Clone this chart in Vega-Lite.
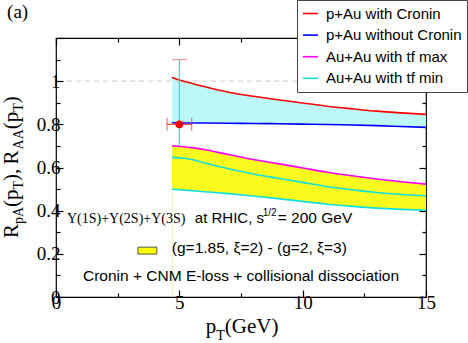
{
  "$schema": "https://vega.github.io/schema/vega-lite/v6.json",
  "width": 370,
  "height": 259,
  "autosize": "none",
  "padding": {"left": 56, "top": 38, "right": 42, "bottom": 46},
  "background": "white",
  "config": {
    "view": {"stroke": "#000", "strokeWidth": 1.2},
    "axis": {"domain": false, "grid": false, "labelFont": "Liberation Serif", "labelFontSize": 19, "labelColor": "#000", "tickColor": "#000", "tickWidth": 1.2, "labelFlush": false, "labelOverlap": false}
  },
  "datasets": {
    "curves": [
      {"pt": 4.7, "red": 1.017, "blue": 0.807, "mag": 0.701, "cyu": 0.647, "cyl": 0.499},
      {"pt": 5, "red": 1.005, "blue": 0.807, "mag": 0.698, "cyu": 0.645, "cyl": 0.497},
      {"pt": 5.5, "red": 0.99, "blue": 0.806, "mag": 0.692, "cyu": 0.637, "cyl": 0.493},
      {"pt": 6, "red": 0.975, "blue": 0.806, "mag": 0.683, "cyu": 0.622, "cyl": 0.488},
      {"pt": 7, "red": 0.949, "blue": 0.805, "mag": 0.66, "cyu": 0.594, "cyl": 0.479},
      {"pt": 8, "red": 0.93, "blue": 0.804, "mag": 0.637, "cyu": 0.57, "cyl": 0.468},
      {"pt": 9, "red": 0.914, "blue": 0.803, "mag": 0.618, "cyu": 0.55, "cyl": 0.456},
      {"pt": 10, "red": 0.899, "blue": 0.801, "mag": 0.598, "cyu": 0.531, "cyl": 0.443},
      {"pt": 11, "red": 0.884, "blue": 0.799, "mag": 0.578, "cyu": 0.511, "cyl": 0.43},
      {"pt": 12, "red": 0.872, "blue": 0.797, "mag": 0.562, "cyu": 0.497, "cyl": 0.42},
      {"pt": 13, "red": 0.861, "blue": 0.794, "mag": 0.547, "cyu": 0.484, "cyl": 0.412},
      {"pt": 14, "red": 0.853, "blue": 0.79, "mag": 0.534, "cyu": 0.475, "cyl": 0.406},
      {"pt": 15, "red": 0.846, "blue": 0.786, "mag": 0.523, "cyu": 0.469, "cyl": 0.402}
    ],
    "point": [
      {"pt": 5, "r": 0.8, "xlo": 4.5, "xhi": 5.5, "ylo": 0.7, "yhi": 1.1}
    ]
  },
  "data": {"name": "point"},
  "resolve": {"axis": {"x": "independent", "y": "independent"}},
  "layer": [
    {
      "data": {"name": "curves"},
      "mark": {"type": "area", "color": "#bcf8f8", "interpolate": "monotone"},
      "encoding": {
        "x": {"field": "pt", "type": "quantitative", "scale": {"domain": [0, 15], "nice": false, "zero": false},
          "axis": {"orient": "bottom", "title": null, "values": [0, 2.5, 5, 7.5, 10, 12.5, 15], "format": "~g",
            "labelFont": "Liberation Serif", "labelFontSize": 19,
            "labelExpr": "datum.value % 5 === 0 ? datum.label : ''",
            "tickSize": {"condition": {"test": "datum.value % 5 === 0", "value": -7}, "value": -4},
            "labelPadding": 3}},
        "y": {"field": "red", "type": "quantitative", "scale": {"domain": [0, 1.2], "nice": false, "zero": false},
          "axis": {"orient": "left", "title": null, "values": [0, 0.1, 0.2, 0.3, 0.4, 0.5, 0.6, 0.7, 0.8, 0.9, 1, 1.1, 1.2], "format": "~g",
            "labelFont": "Liberation Serif", "labelFontSize": 19,
            "labelExpr": "(round(datum.value * 10) % 2 === 0 && datum.value < 1.1) ? datum.label : ''",
            "tickSize": {"condition": {"test": "round(datum.value * 10) % 2 === 0", "value": -7}, "value": -4},
            "labelPadding": 3}},
        "y2": {"field": "blue"}
      }
    },
    {
      "data": {"name": "curves"},
      "mark": {"type": "area", "color": "#fafa1e", "interpolate": "monotone"},
      "encoding": {
        "x": {"field": "pt", "type": "quantitative", "scale": {"domain": [0, 15], "nice": false, "zero": false},
          "axis": {"orient": "top", "title": null, "labels": false, "values": [0, 2.5, 5, 7.5, 10, 12.5, 15],
            "tickSize": {"condition": {"test": "datum.value % 5 === 0", "value": -7}, "value": -4}}},
        "y": {"field": "mag", "type": "quantitative", "scale": {"domain": [0, 1.2], "nice": false, "zero": false},
          "axis": {"orient": "right", "title": null, "labels": false, "values": [0, 0.1, 0.2, 0.3, 0.4, 0.5, 0.6, 0.7, 0.8, 0.9, 1, 1.1, 1.2],
            "tickSize": {"condition": {"test": "round(datum.value * 10) % 2 === 0", "value": -7}, "value": -4}}},
        "y2": {"field": "cyl"}
      }
    },
    {
      "mark": {"type": "rule", "color": "#f2f2c0", "strokeWidth": 1},
      "encoding": {
        "x": {"datum": 4.72, "type": "quantitative", "scale": {"domain": [0, 15], "nice": false, "zero": false}, "axis": null},
        "y": {"datum": 0, "type": "quantitative", "scale": {"domain": [0, 1.2], "nice": false, "zero": false}, "axis": null},
        "y2": {"datum": 0.5}
      }
    },
    {
      "mark": {"type": "rule", "color": "#d4d4d4", "strokeWidth": 1.3, "strokeDash": [5, 4]},
      "encoding": {
        "x": {"datum": 0.45, "type": "quantitative", "scale": {"domain": [0, 15], "nice": false, "zero": false}, "axis": null},
        "x2": {"datum": 15},
        "y": {"datum": 1, "type": "quantitative", "scale": {"domain": [0, 1.2], "nice": false, "zero": false}, "axis": null}
      }
    },
    {
      "data": {"name": "curves"},
      "transform": [{"fold": ["red", "blue", "mag", "cyu", "cyl"], "as": ["curve", "val"]}],
      "mark": {"type": "line", "strokeWidth": 1.6, "interpolate": "monotone"},
      "encoding": {
        "x": {"field": "pt", "type": "quantitative", "scale": {"domain": [0, 15], "nice": false, "zero": false}, "axis": null},
        "y": {"field": "val", "type": "quantitative", "scale": {"domain": [0, 1.2], "nice": false, "zero": false}, "axis": null},
        "detail": {"field": "curve"},
        "color": {"field": "curve", "type": "nominal",
          "scale": {"domain": ["red", "blue", "mag", "cyu", "cyl"], "range": ["#ff0000", "#0000ff", "#ff00ff", "#12dede", "#12dede"]},
          "legend": {"title": null, "orient": "none", "legendX": 241, "legendY": -38, "values": ["red", "blue", "mag", "cyu"],
            "labelExpr": "datum.value === 'red' ? 'p+Au with Cronin' : datum.value === 'blue' ? 'p+Au without Cronin' : datum.value === 'mag' ? 'Au+Au with tf max' : 'Au+Au with tf min'",
            "symbolType": "stroke", "symbolSize": 225, "symbolStrokeWidth": 1.6,
            "labelFont": "Liberation Sans", "labelFontSize": 15, "labelColor": "#000", "labelOffset": 7, "labelLimit": 300,
            "rowPadding": 4.6, "padding": 5, "strokeColor": "#444", "fillColor": "#fff", "cornerRadius": 0}}
      }
    },
    {
      "mark": {"type": "rule", "color": "#5cc8c8", "strokeWidth": 1.2},
      "encoding": {
        "x": {"field": "pt", "type": "quantitative", "scale": {"domain": [0, 15], "nice": false, "zero": false}, "axis": null},
        "y": {"field": "ylo", "type": "quantitative", "scale": {"domain": [0, 1.2], "nice": false, "zero": false}, "axis": null},
        "y2": {"field": "yhi"}
      }
    },
    {
      "mark": {"type": "tick", "orient": "horizontal", "size": 15, "thickness": 1.2, "color": "#ee6b6b"},
      "encoding": {
        "x": {"field": "pt", "type": "quantitative", "scale": {"domain": [0, 15], "nice": false, "zero": false}, "axis": null},
        "y": {"field": "yhi", "type": "quantitative", "scale": {"domain": [0, 1.2], "nice": false, "zero": false}, "axis": null}
      }
    },
    {
      "mark": {"type": "rule", "color": "#ee3b3b", "strokeWidth": 1.2},
      "encoding": {
        "x": {"field": "xlo", "type": "quantitative", "scale": {"domain": [0, 15], "nice": false, "zero": false}, "axis": null},
        "x2": {"field": "xhi"},
        "y": {"field": "r", "type": "quantitative", "scale": {"domain": [0, 1.2], "nice": false, "zero": false}, "axis": null}
      }
    },
    {
      "mark": {"type": "tick", "orient": "vertical", "size": 13, "thickness": 1.2, "color": "#ee3b3b"},
      "encoding": {
        "x": {"field": "xlo", "type": "quantitative", "scale": {"domain": [0, 15], "nice": false, "zero": false}, "axis": null},
        "y": {"field": "r", "type": "quantitative", "scale": {"domain": [0, 1.2], "nice": false, "zero": false}, "axis": null}
      }
    },
    {
      "mark": {"type": "tick", "orient": "vertical", "size": 13, "thickness": 1.2, "color": "#ee3b3b"},
      "encoding": {
        "x": {"field": "xhi", "type": "quantitative", "scale": {"domain": [0, 15], "nice": false, "zero": false}, "axis": null},
        "y": {"field": "r", "type": "quantitative", "scale": {"domain": [0, 1.2], "nice": false, "zero": false}, "axis": null}
      }
    },
    {
      "mark": {"type": "point", "shape": "circle", "filled": true, "size": 60, "color": "#f00000", "opacity": 1},
      "encoding": {
        "x": {"field": "pt", "type": "quantitative", "scale": {"domain": [0, 15], "nice": false, "zero": false}, "axis": null},
        "y": {"field": "r", "type": "quantitative", "scale": {"domain": [0, 1.2], "nice": false, "zero": false}, "axis": null}
      }
    },
    {
      "mark": {"type": "rect", "fill": "#ffff00", "stroke": "#555", "strokeWidth": 1},
      "encoding": {
        "x": {"datum": 3.32, "type": "quantitative", "scale": {"domain": [0, 15], "nice": false, "zero": false}, "axis": null},
        "x2": {"datum": 4.09},
        "y": {"datum": 0.199, "type": "quantitative", "scale": {"domain": [0, 1.2], "nice": false, "zero": false}, "axis": null},
        "y2": {"datum": 0.231}
      }
    },
    {
      "mark": {"type": "text", "text": "Y(1S)+Y(2S)+Y(3S)", "font": "Liberation Serif", "fontSize": 14, "align": "left", "baseline": "alphabetic", "color": "#000"},
      "encoding": {
        "x": {"datum": 0.445, "type": "quantitative", "scale": {"domain": [0, 15], "nice": false, "zero": false}, "axis": null},
        "y": {"datum": 0.3426, "type": "quantitative", "scale": {"domain": [0, 1.2], "nice": false, "zero": false}, "axis": null}
      }
    },
    {
      "mark": {"type": "text", "text": "at RHIC, s", "font": "Liberation Sans", "fontSize": 15, "align": "left", "baseline": "alphabetic", "color": "#000"},
      "encoding": {
        "x": {"datum": 5.628, "type": "quantitative", "scale": {"domain": [0, 15], "nice": false, "zero": false}, "axis": null},
        "y": {"datum": 0.3426, "type": "quantitative", "scale": {"domain": [0, 1.2], "nice": false, "zero": false}, "axis": null}
      }
    },
    {
      "mark": {"type": "text", "text": "1/2", "font": "Liberation Sans", "fontSize": 10, "align": "left", "baseline": "alphabetic", "color": "#000"},
      "encoding": {
        "x": {"datum": 8.38, "type": "quantitative", "scale": {"domain": [0, 15], "nice": false, "zero": false}, "axis": null},
        "y": {"datum": 0.375, "type": "quantitative", "scale": {"domain": [0, 1.2], "nice": false, "zero": false}, "axis": null}
      }
    },
    {
      "mark": {"type": "text", "text": "= 200 GeV", "font": "Liberation Sans", "fontSize": 15.5, "align": "left", "baseline": "alphabetic", "color": "#000"},
      "encoding": {
        "x": {"datum": 8.988, "type": "quantitative", "scale": {"domain": [0, 15], "nice": false, "zero": false}, "axis": null},
        "y": {"datum": 0.3426, "type": "quantitative", "scale": {"domain": [0, 1.2], "nice": false, "zero": false}, "axis": null}
      }
    },
    {
      "mark": {"type": "text", "text": "(g=1.85, ξ=2) - (g=2, ξ=3)", "font": "Liberation Sans", "fontSize": 15.5, "align": "left", "baseline": "alphabetic", "color": "#000"},
      "encoding": {
        "x": {"datum": 4.696, "type": "quantitative", "scale": {"domain": [0, 15], "nice": false, "zero": false}, "axis": null},
        "y": {"datum": 0.2037, "type": "quantitative", "scale": {"domain": [0, 1.2], "nice": false, "zero": false}, "axis": null}
      }
    },
    {
      "mark": {"type": "text", "text": "Cronin + CNM E-loss + collisional dissociation", "font": "Liberation Sans", "fontSize": 15.5, "align": "left", "baseline": "alphabetic", "color": "#000"},
      "encoding": {
        "x": {"datum": 1.093, "type": "quantitative", "scale": {"domain": [0, 15], "nice": false, "zero": false}, "axis": null},
        "y": {"datum": 0.074, "type": "quantitative", "scale": {"domain": [0, 1.2], "nice": false, "zero": false}, "axis": null}
      }
    },
    {
      "mark": {"type": "text", "text": "(a)", "font": "Liberation Serif", "fontSize": 19, "align": "left", "baseline": "alphabetic", "color": "#000"},
      "encoding": {
        "x": {"datum": -1.984, "type": "quantitative", "scale": {"domain": [0, 15], "nice": false, "zero": false}, "axis": null},
        "y": {"datum": 1.2917, "type": "quantitative", "scale": {"domain": [0, 1.2], "nice": false, "zero": false}, "axis": null}
      }
    },
    {
      "mark": {"type": "text", "text": "p", "font": "Liberation Serif", "fontSize": 21, "align": "left", "baseline": "alphabetic", "color": "#000"},
      "encoding": {
        "x": {"datum": 6.073, "type": "quantitative", "scale": {"domain": [0, 15], "nice": false, "zero": false}, "axis": null},
        "y": {"datum": -0.1667, "type": "quantitative", "scale": {"domain": [0, 1.2], "nice": false, "zero": false}, "axis": null}
      }
    },
    {
      "mark": {"type": "text", "text": "T", "font": "Liberation Serif", "fontSize": 14, "align": "left", "baseline": "alphabetic", "color": "#000"},
      "encoding": {
        "x": {"datum": 6.498, "type": "quantitative", "scale": {"domain": [0, 15], "nice": false, "zero": false}, "axis": null},
        "y": {"datum": -0.199, "type": "quantitative", "scale": {"domain": [0, 1.2], "nice": false, "zero": false}, "axis": null}
      }
    },
    {
      "mark": {"type": "text", "text": "(GeV)", "font": "Liberation Serif", "fontSize": 21, "align": "left", "baseline": "alphabetic", "color": "#000"},
      "encoding": {
        "x": {"datum": 6.842, "type": "quantitative", "scale": {"domain": [0, 15], "nice": false, "zero": false}, "axis": null},
        "y": {"datum": -0.1667, "type": "quantitative", "scale": {"domain": [0, 1.2], "nice": false, "zero": false}, "axis": null}
      }
    },
    {
      "mark": {"type": "text", "text": "R", "angle": 270, "font": "Liberation Serif", "fontSize": 21, "align": "left", "baseline": "alphabetic", "color": "#000"},
      "encoding": {
        "x": {"datum": -1.53, "type": "quantitative", "scale": {"domain": [0, 15], "nice": false, "zero": false}, "axis": null},
        "y": {"datum": 0.2731, "type": "quantitative", "scale": {"domain": [0, 1.2], "nice": false, "zero": false}, "axis": null}
      }
    },
    {
      "mark": {"type": "text", "text": "pA", "angle": 270, "font": "Liberation Serif", "fontSize": 14, "align": "left", "baseline": "alphabetic", "color": "#000"},
      "encoding": {
        "x": {"datum": -1.34, "type": "quantitative", "scale": {"domain": [0, 15], "nice": false, "zero": false}, "axis": null},
        "y": {"datum": 0.338, "type": "quantitative", "scale": {"domain": [0, 1.2], "nice": false, "zero": false}, "axis": null}
      }
    },
    {
      "mark": {"type": "text", "text": "(p", "angle": 270, "font": "Liberation Serif", "fontSize": 21, "align": "left", "baseline": "alphabetic", "color": "#000"},
      "encoding": {
        "x": {"datum": -1.53, "type": "quantitative", "scale": {"domain": [0, 15], "nice": false, "zero": false}, "axis": null},
        "y": {"datum": 0.4171, "type": "quantitative", "scale": {"domain": [0, 1.2], "nice": false, "zero": false}, "axis": null}
      }
    },
    {
      "mark": {"type": "text", "text": "T", "angle": 270, "font": "Liberation Serif", "fontSize": 14, "align": "left", "baseline": "alphabetic", "color": "#000"},
      "encoding": {
        "x": {"datum": -1.34, "type": "quantitative", "scale": {"domain": [0, 15], "nice": false, "zero": false}, "axis": null},
        "y": {"datum": 0.4981, "type": "quantitative", "scale": {"domain": [0, 1.2], "nice": false, "zero": false}, "axis": null}
      }
    },
    {
      "mark": {"type": "text", "text": "),", "angle": 270, "font": "Liberation Serif", "fontSize": 21, "align": "left", "baseline": "alphabetic", "color": "#000"},
      "encoding": {
        "x": {"datum": -1.53, "type": "quantitative", "scale": {"domain": [0, 15], "nice": false, "zero": false}, "axis": null},
        "y": {"datum": 0.538, "type": "quantitative", "scale": {"domain": [0, 1.2], "nice": false, "zero": false}, "axis": null}
      }
    },
    {
      "mark": {"type": "text", "text": "R", "angle": 270, "font": "Liberation Serif", "fontSize": 21, "align": "left", "baseline": "alphabetic", "color": "#000"},
      "encoding": {
        "x": {"datum": -1.53, "type": "quantitative", "scale": {"domain": [0, 15], "nice": false, "zero": false}, "axis": null},
        "y": {"datum": 0.6135, "type": "quantitative", "scale": {"domain": [0, 1.2], "nice": false, "zero": false}, "axis": null}
      }
    },
    {
      "mark": {"type": "text", "text": "AA", "angle": 270, "font": "Liberation Serif", "fontSize": 14, "align": "left", "baseline": "alphabetic", "color": "#000"},
      "encoding": {
        "x": {"datum": -1.34, "type": "quantitative", "scale": {"domain": [0, 15], "nice": false, "zero": false}, "axis": null},
        "y": {"datum": 0.6838, "type": "quantitative", "scale": {"domain": [0, 1.2], "nice": false, "zero": false}, "axis": null}
      }
    },
    {
      "mark": {"type": "text", "text": "(p", "angle": 270, "font": "Liberation Serif", "fontSize": 21, "align": "left", "baseline": "alphabetic", "color": "#000"},
      "encoding": {
        "x": {"datum": -1.53, "type": "quantitative", "scale": {"domain": [0, 15], "nice": false, "zero": false}, "axis": null},
        "y": {"datum": 0.7773, "type": "quantitative", "scale": {"domain": [0, 1.2], "nice": false, "zero": false}, "axis": null}
      }
    },
    {
      "mark": {"type": "text", "text": "T", "angle": 270, "font": "Liberation Serif", "fontSize": 14, "align": "left", "baseline": "alphabetic", "color": "#000"},
      "encoding": {
        "x": {"datum": -1.34, "type": "quantitative", "scale": {"domain": [0, 15], "nice": false, "zero": false}, "axis": null},
        "y": {"datum": 0.8583, "type": "quantitative", "scale": {"domain": [0, 1.2], "nice": false, "zero": false}, "axis": null}
      }
    },
    {
      "mark": {"type": "text", "text": ")", "angle": 270, "font": "Liberation Serif", "fontSize": 21, "align": "left", "baseline": "alphabetic", "color": "#000"},
      "encoding": {
        "x": {"datum": -1.53, "type": "quantitative", "scale": {"domain": [0, 15], "nice": false, "zero": false}, "axis": null},
        "y": {"datum": 0.8981, "type": "quantitative", "scale": {"domain": [0, 1.2], "nice": false, "zero": false}, "axis": null}
      }
    }
  ]
}
